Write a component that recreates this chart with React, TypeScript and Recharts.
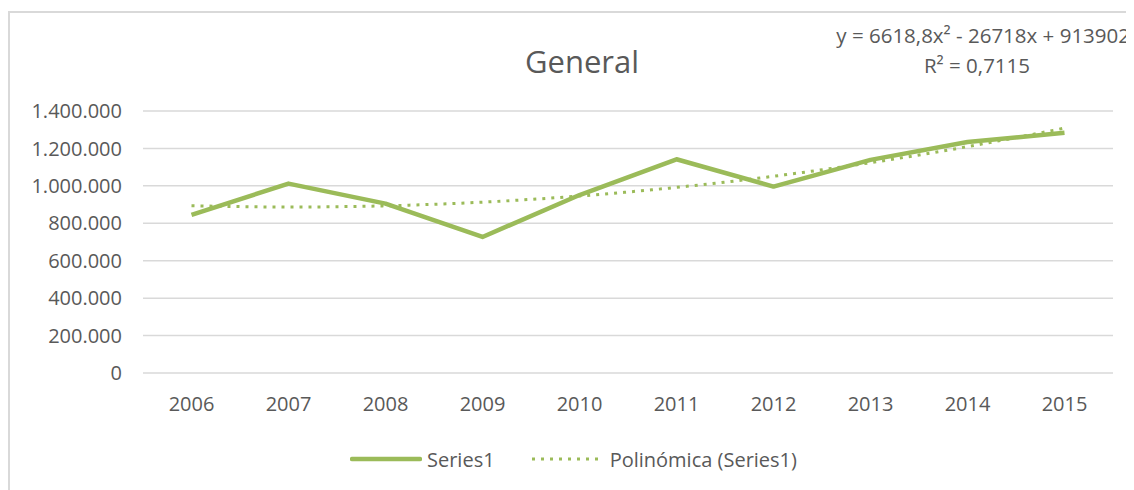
import { LineChart, Line, XAxis, YAxis, CartesianGrid, Legend } from 'recharts'

const years = ['2006', '2007', '2008', '2009', '2010', '2011', '2012', '2013', '2014', '2015']
const series1 = [845000, 1012000, 905000, 727000, 951000, 1142000, 996000, 1139000, 1234000, 1284000]
const trend = [893800, 886900, 893300, 912900, 945800, 991900, 1051200, 1123800, 1209600, 1308600]
const yTicks = [0, 200000, 400000, 600000, 800000, 1000000, 1200000, 1400000]

const data = years.map((year, i) => ({ year, series1: series1[i], trend: trend[i] }))

const GREEN = '#9bbb59'
const TEXT = '#595959'
const FONT = '"Open Sans", sans-serif'

const fmt = (n: number) => String(n).replace(/\B(?=(\d{3})+(?!\d))/g, '.')

const LegendContent = () => (
  <div
    style={{
      display: 'flex',
      alignItems: 'center',
      height: 30,
      paddingLeft: 342,
      fontFamily: FONT,
      fontSize: 20,
      color: TEXT,
    }}
  >
    <svg width={72} height={10}>
      <line x1={2} y1={5} x2={70} y2={5} stroke={GREEN} strokeWidth={4.5} strokeLinecap="round" />
    </svg>
    <span style={{ marginLeft: 5 }}>Series1</span>
    <svg width={66} height={10} style={{ marginLeft: 37 }}>
      <line x1={0} y1={5} x2={66} y2={5} stroke={GREEN} strokeWidth={3} strokeDasharray="3 6" />
    </svg>
    <span style={{ marginLeft: 12 }}>Polinómica (Series1)</span>
  </div>
)

export default function App() {
  return (
    <div style={{ position: 'relative', width: 1126, height: 482 }}>
      <LineChart
        width={1126}
        height={482}
        data={data}
        margin={{ top: 103, right: 21, bottom: 27, left: 0 }}
        style={{ position: 'absolute', left: 0, top: 0 }}
      >
        <text x={574} y={65} textAnchor="middle" fontFamily={FONT} fontSize={31} fill={TEXT}>
          General
        </text>
        <text x={1122} y={35} textAnchor="end" fontFamily={FONT} fontSize={20.5} fill={TEXT}>
          y = 6618,8x² - 26718x + 913902
        </text>
        <text x={969} y={65} textAnchor="middle" fontFamily={FONT} fontSize={20.5} fill={TEXT}>
          R² = 0,7115
        </text>
        <CartesianGrid vertical={false} stroke="#d9d9d9" strokeWidth={1.5} />
        <XAxis
          dataKey="year"
          height={60}
          padding={{ left: 48.5, right: 48.5 }}
          axisLine={false}
          tickLine={false}
          tickSize={0}
          tickMargin={24}
          tick={{ fill: TEXT, fontSize: 20, fontFamily: FONT }}
        />
        <YAxis
          width={135}
          domain={[0, 1400000]}
          ticks={yTicks}
          tickFormatter={fmt}
          axisLine={false}
          tickLine={false}
          tickSize={0}
          tickMargin={21}
          tick={{ fill: TEXT, fontSize: 20, fontFamily: FONT }}
        />
        <Line
          dataKey="series1"
          stroke={GREEN}
          strokeWidth={4.5}
          strokeLinejoin="round"
          dot={false}
          activeDot={false}
          isAnimationActive={false}
        />
        <Line
          dataKey="trend"
          type="monotone"
          stroke={GREEN}
          strokeWidth={3}
          strokeDasharray="3 6"
          dot={false}
          activeDot={false}
          isAnimationActive={false}
        />
        <Legend
          verticalAlign="bottom"
          content={<LegendContent />}
          wrapperStyle={{ top: 436, bottom: 'auto', left: 0, width: 1126 }}
        />
      </LineChart>
      <div
        style={{
          position: 'absolute',
          left: 0,
          top: 3,
          width: 1126,
          height: 479,
          borderTop: '2px solid #d9d9d9',
          borderLeft: '2px solid #d9d9d9',
          boxSizing: 'border-box',
          pointerEvents: 'none',
          zIndex: 5,
        }}
      />
    </div>
  )
}
